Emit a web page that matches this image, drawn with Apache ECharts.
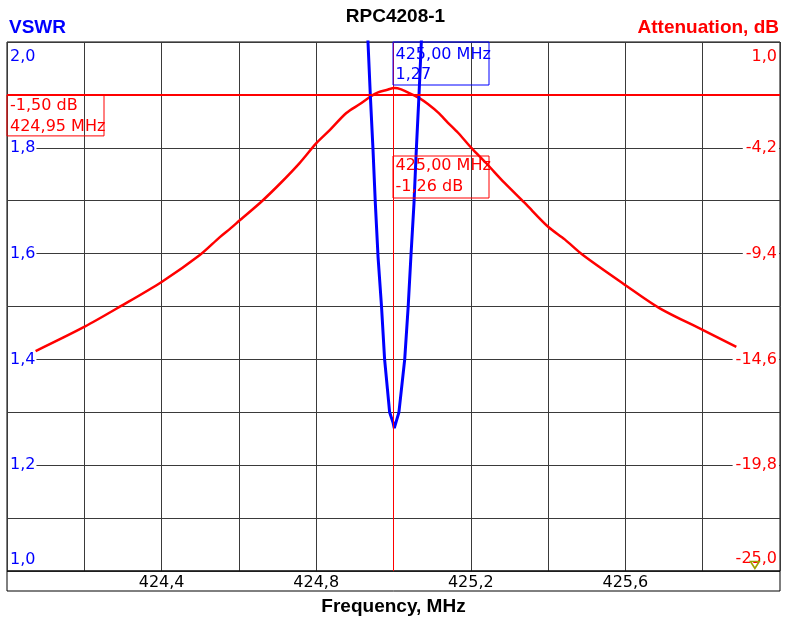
<!DOCTYPE html>
<html><head><meta charset="utf-8">
<script src="https://cdn.jsdelivr.net/npm/echarts@6/dist/echarts.min.js"></script>
<style>html,body{margin:0;padding:0;background:#fff}#c{width:791px;height:625px}</style>
</head><body><div id="c"></div>
<script>
// ---- data ----
const attFreq = [424.074, 424.201, 424.292, 424.401, 424.499, 424.550, 424.579, 424.603, 424.658, 424.708,
  424.757, 424.801, 424.835, 424.878, 424.913, 424.943, 424.960, 424.982, 425.003, 425.020,
  425.042, 425.068, 425.089, 425.115, 425.141, 425.167, 425.202, 425.240, 425.288, 425.339,
  425.400, 425.443, 425.490, 425.603, 425.689, 425.801, 425.887];
const attValues = [-14.19, -12.99, -12.01, -10.78, -9.47, -8.60, -8.15, -7.75, -6.85, -5.93,
  -4.95, -3.96, -3.33, -2.49, -2.05, -1.65, -1.48, -1.36, -1.26, -1.33,
  -1.52, -1.77, -2.05, -2.46, -2.97, -3.46, -4.22, -4.96, -5.94, -6.90,
  -8.08, -8.70, -9.47, -10.99, -12.09, -13.16, -13.98];
const vswrFreq = [424.928, 424.934, 424.940, 424.947, 424.953, 424.960, 424.969, 424.977, 424.990, 424.999,
  425.002, 425.006, 425.014, 425.029, 425.038, 425.045, 425.053, 425.059, 425.066, 425.072, 425.078];
const vswrValues = [2.10, 2.00, 1.90, 1.796, 1.695, 1.594, 1.50, 1.40, 1.30, 1.28,
  1.27, 1.28, 1.30, 1.40, 1.50, 1.594, 1.695, 1.796, 1.90, 2.00, 2.10];
const xTicks = [424.4, 424.8, 425.2, 425.6];
const vswrTicks = [1.0, 1.2, 1.4, 1.6, 1.8, 2.0];
const attTicks = [-25.0, -19.8, -14.6, -9.4, -4.2, 1.0];
const markerFreq = 425.00;
const markerLevel = -1.6;
const triangleMark = [425.935, -24.7];
const blueBoxText = ['425,00 MHz', '1,27'];
const redBoxText = ['425,00 MHz', '-1,26 dB'];
const leftBoxText = ['-1,50 dB', '424,95 MHz'];

const BLUE = '#0000ff', RED = '#ff0000', GRID = '#3a3a3a';
const comma = (v) => v.toFixed(1).replace('.', ',');
const near = (list, v) => list.findIndex(t => Math.abs(t - v) < 1e-6);

const chart = echarts.init(document.getElementById('c'), null, {renderer: 'canvas'});
const labelFont = 'DejaVu Sans';
const titleFont = 'Liberation Sans';

function yRich(color, topPad, botPad, left) {
  const side = left ? [0, 1, 0, 2] : [0, 2, 0, 3];
  return {
    mid: {color, fontFamily: labelFont, fontSize: 16, backgroundColor: '#fff', padding: side},
    top: {color, fontFamily: labelFont, fontSize: 16, padding: [topPad, side[1], 0, side[3]]},
    bot: {color, fontFamily: labelFont, fontSize: 16, padding: [0, side[1], botPad, side[3]]}
  };
}

chart.setOption({
  animation: false,
  backgroundColor: '#fff',
  title: [
    {text: 'RPC4208-1', left: 'center', top: 7, padding: 0,
     textStyle: {fontFamily: titleFont, fontWeight: 'bold', fontSize: 19, color: '#000'}},
    {text: 'VSWR', left: 9, top: 18, padding: 0,
     textStyle: {fontFamily: titleFont, fontWeight: 'bold', fontSize: 19, color: BLUE}},
    {text: 'Attenuation, dB', right: 12, top: 18, padding: 0,
     textStyle: {fontFamily: titleFont, fontWeight: 'bold', fontSize: 19, color: RED}}
  ],
  grid: {left: 7, top: 42, right: 11, bottom: 54, containLabel: false, outerBoundsMode: 'none',
         show: true, borderColor: '#000', borderWidth: 1, backgroundColor: '#fff'},
  xAxis: {
    type: 'value', min: 424, max: 426, interval: 0.2,
    axisLine: {show: false}, axisTick: {show: false},
    splitLine: {show: true, lineStyle: {color: GRID, width: 1}},
    axisLabel: {
      color: '#000', fontFamily: labelFont, fontSize: 16, margin: 4,
      showMinLabel: false, showMaxLabel: false,
      formatter: v => near(xTicks, v) >= 0 ? comma(v) : ''
    },
    name: 'Frequency, MHz', nameLocation: 'middle', nameGap: 26,
    nameTextStyle: {fontFamily: titleFont, fontWeight: 'bold', fontSize: 19, color: '#000'}
  },
  yAxis: [
    {
      type: 'value', min: 1, max: 2, interval: 0.1, position: 'left',
      axisLine: {show: false}, axisTick: {show: false},
      splitLine: {show: true, lineStyle: {color: GRID, width: 1}},
      axisLabel: {
        inside: true, margin: 1, color: BLUE, fontFamily: labelFont, fontSize: 16,
        formatter: v => {
          const i = near(vswrTicks, v);
          if (i < 0) return '';
          if (i === vswrTicks.length - 1) return '{top|' + comma(v) + '}';
          if (i === 0) return '{bot|' + comma(v) + '}';
          return '{mid|' + comma(v) + '}';
        },
        rich: yRich(BLUE, 30, 22, true)
      }
    },
    {
      type: 'value', min: -25, max: 1, alignTicks: true, position: 'right',
      axisLine: {show: false}, axisTick: {show: false}, splitLine: {show: false},
      axisLabel: {
        inside: true, margin: 1, color: RED, fontFamily: labelFont, fontSize: 16,
        formatter: v => {
          const i = near(attTicks, v);
          if (i < 0) return '';
          if (i === attTicks.length - 1) return '{top|' + comma(v) + '}';
          if (i === 0) return '{bot|' + comma(v) + '}';
          return '{mid|' + comma(v) + '}';
        },
        rich: yRich(RED, 30, 24, false)
      }
    }
  ],
  series: [
    {
      name: 'Attenuation', type: 'line', yAxisIndex: 1, showSymbol: false, smooth: 0.3, clip: true,
      data: attFreq.map((f, i) => [f, attValues[i]]),
      lineStyle: {color: RED, width: 2.5}, itemStyle: {color: RED}, z: 3,
      markLine: {
        silent: true, symbol: ['none', 'none'], label: {show: false},
        data: [
          {xAxis: markerFreq, lineStyle: {color: RED, width: 1, type: 'solid'}},
          {yAxis: markerLevel, lineStyle: {color: RED, width: 2, type: 'solid'}}
        ]
      },
      markPoint: {
        silent: true, symbol: 'triangle', symbolRotate: 180, symbolSize: [9, 7],
        itemStyle: {color: 'rgba(0,0,0,0)', borderColor: '#a0a000', borderWidth: 1.5},
        label: {show: false},
        data: [{coord: triangleMark}]
      }
    },
    {
      name: 'VSWR', type: 'line', yAxisIndex: 0, showSymbol: false, clip: true,
      data: vswrFreq.map((f, i) => [f, vswrValues[i]]),
      lineStyle: {color: BLUE, width: 3}, itemStyle: {color: BLUE}, z: 4
    }
  ]
});

const x425 = chart.convertToPixel({xAxisIndex: 0}, markerFreq);
const yRef = chart.convertToPixel({yAxisIndex: 1}, markerLevel);
const gTop = 42, gLeft = 7, gRight = 780, gBottom = 571;
const boxFont = '16px "DejaVu Sans"';
chart.setOption({
  graphic: [
    {type: 'rect', shape: {x: gLeft, y: gBottom, width: gRight - gLeft, height: 20},
     style: {fill: null, stroke: '#000', lineWidth: 1}, silent: true},
    {type: 'rect', shape: {x: x425 - 0.5, y: gTop, width: 96, height: 43},
     style: {fill: null, stroke: BLUE, lineWidth: 1}, silent: true, z: 10},
    {type: 'text', x: x425 + 2, y: gTop + 2.5,
     style: {text: blueBoxText.join('\n'), fill: BLUE, font: boxFont, lineHeight: 20}, silent: true, z: 10},
    {type: 'rect', shape: {x: x425 - 0.5, y: 156, width: 96, height: 42},
     style: {fill: null, stroke: RED, lineWidth: 1}, silent: true, z: 10},
    {type: 'text', x: x425 + 2, y: 156,
     style: {text: redBoxText.join('\n'), fill: RED, font: boxFont, lineHeight: 20.5}, silent: true, z: 10},
    {type: 'rect', shape: {x: gLeft, y: yRef, width: 97, height: 41},
     style: {fill: null, stroke: RED, lineWidth: 1}, silent: true, z: 10},
    {type: 'text', x: gLeft + 3, y: yRef,
     style: {text: leftBoxText.join('\n'), fill: RED, font: boxFont, lineHeight: 21}, silent: true, z: 10}
  ]
});
</script></body></html>
